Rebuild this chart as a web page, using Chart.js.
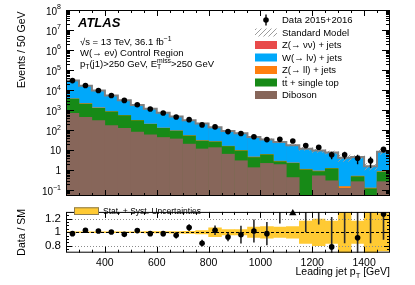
<!DOCTYPE html>
<html>
<head>
<meta charset="utf-8">
<title>W(e nu) control region - leading jet pT</title>
<script src="https://cdn.jsdelivr.net/npm/chart.js"></script>
<style>
  body { margin: 0; background: #fff; }
  #wrap { position: relative; width: 415px; height: 285px; }
  canvas { position: absolute; left: 0; }
</style>
</head>
<body>
<div id="wrap">
  <canvas id="mainChart" width="415" height="200" style="top:0"></canvas>
  <canvas id="ratioChart" width="415" height="85" style="top:200px"></canvas>
</div>

<script type="text/javascript">
  // bins of 50 GeV, leading jet pT
  const binCenters = [275, 325, 375, 425, 475, 525, 575, 625, 675, 725, 775, 825, 875, 925, 975,
                      1025, 1075, 1125, 1175, 1225, 1275, 1325, 1375, 1425, 1475];
  const dataCounts = [30000, 17100, 9660, 5440, 3070, 1880, 1150, 725, 460, 337, 184, 146, 85, 68, 47,
                      34, 35, 29, 17, 14, 6, 6, 4, 3, 11];
  const dataErr = [173, 131, 98, 74, 55, 43, 34, 27, 21, 18, 14, 12, 9.2, 8.2, 6.9,
                   5.8, 5.9, 5.4, 4.1, 3.7, 2.4, 2.4, 2.0, 1.7, 3.3];

  // backgrounds (stacked bottom -> top)
  const diboson = [720, 460, 310, 175, 130, 83, 61, 45, 38, 21, 12, 14, 6.6, 3.1, 1.4,
                   2.3, 2.0, 0.45, 0, 0.55, 0.31, 0.13, 0.28, 0, 0.28];
  const ttbar = [2980, 1640, 980, 675, 420, 227, 144, 85, 57, 33, 18, 13, 9.4, 6.6, 3.1,
                 3.9, 0.8, 1.85, 1.1, 0.35, 0.94, 0, 0.22, 0.125, 0.56];
  const zll = [180, 100, 57, 33, 19, 11, 7, 4.5, 2.9, 1.9, 1.3, 0.9, 0.55, 0.42, 0.27,
               0.21, 0.16, 0.11, 0.07, 0.06, 0.05, 0.03, 0.03, 0.01, 0.05];
  const wjets = [26660, 14365, 8103, 4515, 2584, 1505, 956, 604, 381, 258, 187, 114, 74, 60, 41,
                 28, 23, 15.5, 10.8, 8.7, 6.5, 4.1, 4.1, 1.46, 7.6];
  const znunu = [60, 35, 20, 12, 7, 4, 2.5, 1.6, 1.1, 0.7, 0.5, 0.3, 0.2, 0.15, 0.1,
                 0.07, 0.05, 0.04, 0.03, 0.02, 0.02, 0.01, 0.01, 0.005, 0.02];

  // Data / SM
  const ratio = [0.98, 1.03, 1.02, 1.005, 0.97, 1.025, 0.98, 0.98, 0.955, 1.07, 0.84, 1.03, 0.93, 0.965, 1.02,
                 0.98, 1.35, 1.7, 1.42, 1.45, 0.785, 1.42, 0.92, 1.9, 1.27];
  const ratioErr = [0.006, 0.008, 0.01, 0.014, 0.018, 0.024, 0.03, 0.037, 0.045, 0.05, 0.05, 0.07, 0.06, 0.13, 0.17,
                    0.17, 0.22, 0.3, 0.42, 0.335, 0.44, 0.58, 0.45, 1.06, 0.38];
  // relative stat+syst uncertainty of the SM prediction
  const smUnc = [0.012, 0.012, 0.012, 0.012, 0.012, 0.012, 0.014, 0.014, 0.016, 0.02, 0.03, 0.07, 0.045, 0.045, 0.08,
                 0.09, 0.08, 0.09, 0.17, 0.2, 0.17, 0.35, 0.17, 0.35, 0.28];
  const offScaleBins = [1125];

  const xMajor = [400, 600, 800, 1000, 1200, 1400];
  const ratioTicks = [0.8, 1, 1.2];

  const COL = {
    znunu: '#e84a4a',
    wjets: '#00a8fa',
    zll: '#ff7f0e',
    ttbar: '#178a17',
    diboson: '#87665a',
    band: '#ffca33'
  };
  const FAM = '"Liberation Sans", Arial, Helvetica, sans-serif';
  Chart.defaults.font.family = FAM;

  // cumulative stack
  const layerCum = [];
  let run = binCenters.map(() => 0);
  [diboson, ttbar, zll, wjets, znunu].forEach(l => {
    run = run.map((v, i) => v + l[i]);
    layerCum.push(run);
  });
  const smTotal = layerCum[4];
  const edges = binCenters.map(c => c - 25).concat([1500]);

  function hatch(color) {
    const c = document.createElement('canvas');
    c.width = 5; c.height = 5;
    const g = c.getContext('2d');
    g.strokeStyle = color; g.lineWidth = 1;
    g.beginPath();
    g.moveTo(0, 5); g.lineTo(5, 0);
    g.moveTo(-1, 1); g.lineTo(1, -1);
    g.moveTo(4, 6); g.lineTo(6, 4);
    g.stroke();
    return g.createPattern(c, 'repeat');
  }
  const hatchFill = hatch('#9c9c9c');

  function barSet(label, vals, color) {
    return {
      type: 'bar', label: label,
      data: binCenters.map((x, i) => ({x: x, y: vals[i]})),
      backgroundColor: color, borderWidth: 0,
      grouped: false, barPercentage: 1.04, categoryPercentage: 1
    };
  }

  // text with sub/superscripts: segs = [[text, kind]]
  function richText(ctx, segs, x, y, size, align) {
    const small = size * 0.72;
    const widthOf = (g) => {
      const t = g[0], k = g[1];
      if (k === 'subsup') {
        ctx.font = small + 'px ' + FAM;
        return Math.max(ctx.measureText(t[0]).width, ctx.measureText(t[1]).width);
      }
      ctx.font = ((k === 'sub' || k === 'sup') ? small : size) + 'px ' + FAM;
      return ctx.measureText(t).width;
    };
    const total = segs.reduce((s, g) => s + widthOf(g), 0);
    let cx = align === 'right' ? x - total : x;
    ctx.textAlign = 'left';
    ctx.textBaseline = 'alphabetic';
    segs.forEach(g => {
      const t = g[0], k = g[1];
      const w = widthOf(g);
      if (k === 'sub') ctx.fillText(t, cx, y + size * 0.25);
      else if (k === 'sup') ctx.fillText(t, cx, y - size * 0.42);
      else if (k === 'subsup') {
        ctx.fillText(t[0], cx, y + size * 0.25);
        ctx.fillText(t[1], cx, y - size * 0.45);
      } else {
        ctx.fillText(t, cx, y);
        if (k === 'bar') ctx.fillRect(cx + 0.5, y - size * 0.95, w - 1, 0.8);
      }
      cx += w;
    });
    return total;
  }

  // frame + inward ticks on all four sides
  function drawFrame(chart, xTicks, yTicks) {
    const ctx = chart.ctx, a = chart.chartArea;
    const xs = chart.scales.x, ys = chart.scales.y;
    ctx.save();
    ctx.strokeStyle = '#000';
    ctx.lineWidth = 1;
    ctx.strokeRect(a.left + 0.5, a.top + 0.5, a.right - a.left - 1, a.bottom - a.top - 1);
    ctx.beginPath();
    xTicks.forEach(t => {
      const px = Math.round(xs.getPixelForValue(t[0])) + 0.5;
      ctx.moveTo(px, a.bottom); ctx.lineTo(px, a.bottom - t[1]);
      ctx.moveTo(px, a.top); ctx.lineTo(px, a.top + t[1]);
    });
    yTicks.forEach(t => {
      const py = Math.round(ys.getPixelForValue(t[0])) + 0.5;
      ctx.moveTo(a.left, py); ctx.lineTo(a.left + t[1], py);
      ctx.moveTo(a.right, py); ctx.lineTo(a.right - t[1], py);
    });
    ctx.stroke();
    ctx.restore();
  }

  const xTickList = [];
  for (let v = 300; v < 1500; v += 50) xTickList.push([v, v % 200 === 0 ? 6 : 3]);

  // ---------- main panel ----------
  const logTicks = [];
  for (let d = -2; d <= 8; d++) {
    for (let m = 1; m <= 9; m++) {
      const v = m * Math.pow(10, d);
      if (v >= 0.052 && v <= 1e8) logTicks.push([v, m === 1 ? 8 : 4]);
    }
  }

  const mainPlugin = {
    id: 'mainPlugin',
    afterDatasetDraw(chart, args) {
      if (args.index !== 1) return;
      const ctx = chart.ctx, a = chart.chartArea;
      const xs = chart.scales.x, ys = chart.scales.y;
      ctx.save();
      ctx.beginPath(); ctx.rect(a.left, a.top, a.right - a.left, a.bottom - a.top); ctx.clip();
      ctx.strokeStyle = '#000'; ctx.lineWidth = 1.4;
      ctx.beginPath();
      binCenters.forEach((x, i) => {
        const px = xs.getPixelForValue(x);
        ctx.moveTo(px, ys.getPixelForValue(dataCounts[i] + dataErr[i]));
        ctx.lineTo(px, ys.getPixelForValue(Math.max(dataCounts[i] - dataErr[i], 0.01)));
      });
      ctx.stroke();
      ctx.restore();
    },
    afterDraw(chart) {
      const ctx = chart.ctx, a = chart.chartArea, ys = chart.scales.y;
      drawFrame(chart, xTickList, logTicks);
      ctx.save();
      ctx.fillStyle = '#000';
      // y tick labels 10^n
      for (let d = -1; d <= 8; d++) {
        const py = ys.getPixelForValue(Math.pow(10, d));
        if (d === 0 || d === 1) {
          richText(ctx, [[d === 0 ? '1' : '10']], 61, py + 3.6, 10, 'right');
        } else {
          ctx.font = '7px ' + FAM;
          const exp = String(d).replace('-', '\u2212');
          const we = ctx.measureText(exp).width;
          ctx.font = '10px ' + FAM;
          const wb = ctx.measureText('10').width;
          const x0 = 61 - we - wb;
          ctx.textAlign = 'left'; ctx.textBaseline = 'alphabetic';
          ctx.fillText('10', x0, py + 4.6);
          ctx.font = '7px ' + FAM;
          ctx.fillText(exp, x0 + wb, py - 0.6);
        }
      }
      // y title
      ctx.save();
      ctx.translate(22, a.top + 1.5);
      ctx.rotate(-Math.PI / 2);
      ctx.font = '10.5px ' + FAM;
      ctx.textAlign = 'right'; ctx.textBaseline = 'middle';
      ctx.fillText('Events / 50 GeV', 0, 0);
      ctx.restore();

      // ATLAS label block
      ctx.font = 'italic bold 13px ' + FAM;
      ctx.textAlign = 'left'; ctx.textBaseline = 'alphabetic';
      ctx.fillText('ATLAS', 78, 27);
      richText(ctx, [['\u221As = 13 TeV, 36.1 fb'], ['\u22121', 'sup']], 80, 44.5, 9.5);
      richText(ctx, [['W(\u2192 e\u03BD) Control Region']], 80, 55.7, 9.5);
      richText(ctx, [['p'], ['T', 'sub'], ['(j1)>250 GeV, E'], [['T', 'miss'], 'subsup'], ['>250 GeV']], 80, 66.8, 9.5);

      // legend
      const ly = [20, 32.5, 45, 57.5, 70, 82.5, 95];
      const bx = 255, bw = 22, bh = 8;
      // data
      ctx.strokeStyle = '#000'; ctx.lineWidth = 1.4;
      ctx.beginPath(); ctx.moveTo(266, ly[0] - 5.5); ctx.lineTo(266, ly[0] + 5.5); ctx.stroke();
      ctx.beginPath(); ctx.arc(266, ly[0], 2.8, 0, 2 * Math.PI); ctx.fill();
      // SM
      ctx.fillStyle = hatchFill;
      ctx.fillRect(bx, ly[1] - bh / 2, bw, bh);
      const boxes = [COL.znunu, COL.wjets, COL.zll, COL.ttbar, COL.diboson];
      boxes.forEach((c, i) => {
        ctx.fillStyle = c;
        ctx.fillRect(bx, ly[i + 2] - bh / 2, bw, bh);
      });
      ctx.fillStyle = '#000';
      const labels = [
        [['Data 2015+2016']],
        [['Standard Model']],
        [['Z(\u2192 \u03BD\u03BD) + jets']],
        [['W(\u2192 l\u03BD) + jets']],
        [['Z(\u2192 ll) + jets']],
        [['t'], ['t', 'bar'], [' + single top']],
        [['Diboson']]
      ];
      labels.forEach((l, i) => richText(ctx, l, 282, ly[i] + 3.4, 9.5));
      ctx.restore();
    }
  };

  new Chart(document.getElementById('mainChart'), {
    type: 'bar',
    data: {
      datasets: [
        {
          type: 'scatter', label: 'Data 2015+2016',
          data: binCenters.map((x, i) => ({x: x, y: dataCounts[i]})),
          pointRadius: 2.8, pointBackgroundColor: '#000', pointBorderWidth: 0
        },
        {
          type: 'line', label: 'Standard Model',
          data: edges.map((x, i) => ({x: x, y: smTotal[Math.min(i, smTotal.length - 1)]})),
          stepped: 'before', borderColor: '#808080', borderWidth: 2,
          pointRadius: 0, fill: false
        },
        {
          type: 'bar', label: 'SM uncertainty',
          data: binCenters.map((x, i) => ({x: x, y: [smTotal[i] * (1 - smUnc[i]), smTotal[i] * (1 + smUnc[i])]})),
          backgroundColor: hatchFill, borderWidth: 0,
          grouped: false, barPercentage: 1, categoryPercentage: 1
        },
        barSet('Diboson', layerCum[0], COL.diboson),
        barSet('ttbar + single top', layerCum[1], COL.ttbar),
        barSet('Z(ll) + jets', layerCum[2], COL.zll),
        barSet('W(lnu) + jets', layerCum[3], COL.wjets),
        barSet('Z(nunu) + jets', layerCum[4], COL.znunu)
      ]
    },
    options: {
      responsive: false,
      animation: false,
      devicePixelRatio: 1,
      layout: {padding: {top: 10, right: 25, left: 0, bottom: 0}},
      plugins: {legend: {display: false}, tooltip: {enabled: false}},
      scales: {
        x: {
          type: 'linear', min: 250, max: 1500, offset: false,
          grid: {display: false, drawTicks: false}, border: {display: false},
          ticks: {display: false},
          afterBuildTicks: s => { s.ticks = xMajor.map(v => ({value: v})); },
          afterFit: s => { s.height = 3.3; }
        },
        y: {
          type: 'logarithmic', min: 0.052, max: 1e8, stacked: false,
          grid: {display: false, drawTicks: false}, border: {display: false},
          ticks: {display: false},
          afterFit: s => { s.width = 66; }
        }
      }
    },
    plugins: [mainPlugin]
  });

  // ---------- ratio panel ----------
  const ratioMin = 0.7, ratioMax = 1.3;
  const ratioTickList = [];
  for (let k = 15; k <= 25; k++) ratioTickList.push([k * 0.05, (k % 4 === 0) ? 6 : 3]);

  const ratioPlugin = {
    id: 'ratioPlugin',
    afterDatasetDraw(chart, args) {
      if (args.index !== 2) return;
      const ctx = chart.ctx, a = chart.chartArea;
      const xs = chart.scales.x, ys = chart.scales.y;
      ctx.save();
      ctx.beginPath(); ctx.rect(a.left, a.top, a.right - a.left, a.bottom - a.top); ctx.clip();
      // reference lines
      ctx.lineWidth = 1;
      ctx.strokeStyle = '#8c8c8c';
      ctx.setLineDash([1, 2]);
      ctx.beginPath();
      [0.8, 1.2].forEach(v => {
        const py = Math.round(ys.getPixelForValue(v)) + 0.5;
        ctx.moveTo(a.left, py); ctx.lineTo(a.right, py);
      });
      ctx.stroke();
      // legend background (covers the reference line)
      ctx.fillStyle = '#fff';
      ctx.fillRect(a.left + 1, 4.5, 137, 13);
      ctx.strokeStyle = '#000';
      ctx.setLineDash([3, 2]);
      ctx.beginPath();
      const p1 = Math.round(ys.getPixelForValue(1)) + 0.5;
      ctx.moveTo(a.left, p1); ctx.lineTo(a.right, p1);
      ctx.stroke();
      ctx.setLineDash([]);
      // error bars
      ctx.strokeStyle = '#2a2a2a'; ctx.lineWidth = 1.6;
      ctx.beginPath();
      binCenters.forEach((x, i) => {
        const px = xs.getPixelForValue(x);
        ctx.moveTo(px, ys.getPixelForValue(ratio[i] + ratioErr[i]));
        ctx.lineTo(px, ys.getPixelForValue(ratio[i] - ratioErr[i]));
      });
      ctx.stroke();
      ctx.restore();
    },
    afterDraw(chart) {
      const ctx = chart.ctx, a = chart.chartArea;
      drawFrame(chart, xTickList, ratioTickList);
      ctx.save();
      ctx.fillStyle = '#000';
      // y title
      ctx.save();
      ctx.translate(22, (a.top + a.bottom) / 2);
      ctx.rotate(-Math.PI / 2);
      ctx.font = '10.5px ' + FAM;
      ctx.textAlign = 'center'; ctx.textBaseline = 'middle';
      ctx.fillText('Data / SM', 0, 0);
      ctx.restore();
      // x title
      richText(ctx, [['Leading jet p'], ['T', 'sub'], [' [GeV]']], a.right, 75, 10.5, 'right');
      // legend
      ctx.fillStyle = COL.band;
      ctx.fillRect(74, 7.3, 25, 7.7);
      ctx.strokeStyle = '#8a7a50'; ctx.lineWidth = 1;
      ctx.strokeRect(74.5, 7.8, 24, 6.7);
      ctx.fillStyle = '#000';
      richText(ctx, [['Stat. + Syst. Uncertainties']], 103, 14, 8.5);
      ctx.restore();
    }
  };

  new Chart(document.getElementById('ratioChart'), {
    type: 'bar',
    data: {
      datasets: [
        {
          type: 'scatter', label: 'Data / SM',
          data: binCenters.map((x, i) => ({x: x, y: ratio[i]})),
          pointRadius: 2.8, pointBackgroundColor: '#000', pointBorderWidth: 0
        },
        {
          type: 'scatter', label: 'out of range',
          data: offScaleBins.map(x => ({x: x, y: ratioMax - 0.02})),
          pointStyle: 'triangle', pointRadius: 4.2, pointBackgroundColor: '#000',
          pointBorderWidth: 0, clip: false
        },
        {
          type: 'bar', label: 'Stat. + Syst. Uncertainties',
          data: binCenters.map((x, i) => ({x: x, y: [1 - smUnc[i], 1 + smUnc[i]]})),
          backgroundColor: COL.band, borderWidth: 0,
          grouped: false, barPercentage: 1.04, categoryPercentage: 1
        }
      ]
    },
    options: {
      responsive: false,
      animation: false,
      devicePixelRatio: 1,
      layout: {padding: {top: 2.3, right: 25, left: 0, bottom: 0}},
      plugins: {legend: {display: false}, tooltip: {enabled: false}},
      scales: {
        x: {
          type: 'linear', min: 250, max: 1500, offset: false,
          grid: {display: false, drawTicks: false}, border: {display: false},
          ticks: {color: '#000', font: {size: 10.5}, padding: 4, maxRotation: 0,
                  callback: v => String(v)},
          afterBuildTicks: s => { s.ticks = xMajor.map(v => ({value: v})); },
          afterFit: s => { s.height = 32.3; }
        },
        y: {
          type: 'linear', min: ratioMin, max: ratioMax, stacked: false,
          grid: {display: false, drawTicks: false}, border: {display: false},
          ticks: {color: '#000', font: {size: 11.5}, padding: 5,
                  callback: v => (v === 1 ? '1' : v.toFixed(1))},
          afterBuildTicks: s => { s.ticks = ratioTicks.map(v => ({value: v})); },
          afterFit: s => { s.width = 66; }
        }
      }
    },
    plugins: [ratioPlugin]
  });
</script>
</body>
</html>
